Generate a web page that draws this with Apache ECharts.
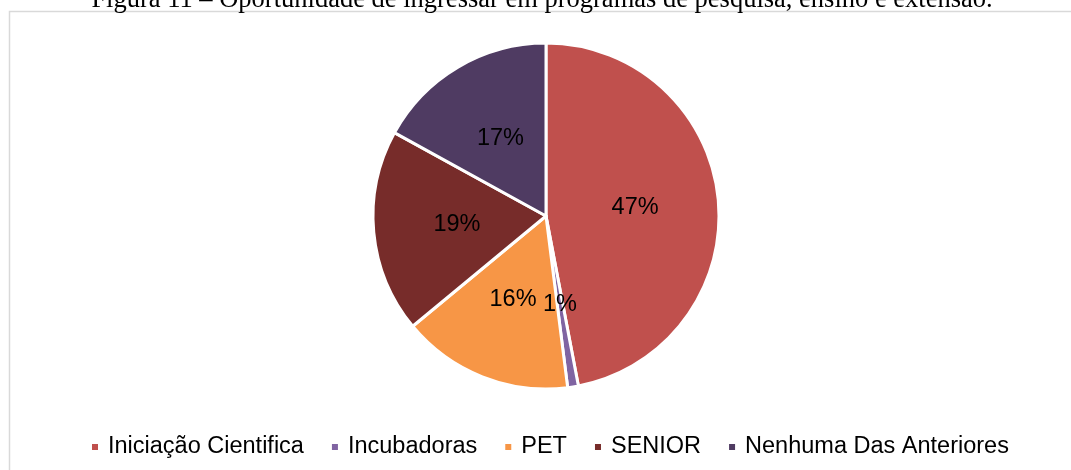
<!DOCTYPE html>
<html lang="pt">
  <head>
    <meta charset="UTF-8">
    <title>Figura 11</title>
    <style>
      html, body { margin: 0; padding: 0; background: #fff; }
      #main { width: 1071px; height: 470px; }
    </style>
  </head>
  <body>
    <div id="main"></div>
    <script src="https://cdn.jsdelivr.net/npm/echarts@6/dist/echarts.min.js"></script>
    <script>
      // dados (percentuais)
      var categorias = ['Iniciação Cientifica', 'Incubadoras', 'PET', 'SENIOR', 'Nenhuma Das Anteriores'];
      var valores = [47, 1, 16, 19, 17];
      var cores = ['#C0504D', '#8064A2', '#F79646', '#772C2A', '#4F3B62'];

      var chart = echarts.init(document.getElementById('main'));

      var dados = categorias.map(function (nome, i) {
        return { name: nome, value: valores[i] };
      });

      var option = {
        animation: false,
        color: cores,
        graphic: [
          {
            type: 'rect',
            shape: { x: 9.5, y: 11.5, width: 1200, height: 600 },
            style: { fill: 'none', stroke: '#D9D9D9', lineWidth: 1.5 },
            z: -1
          },
          {
            type: 'text',
            x: 542,
            y: -13,
            style: {
              text: 'Figura 11 – Oportunidade de ingressar em programas de pesquisa, ensino e extensão.',
              font: '26.5px "Liberation Serif", "Times New Roman", serif',
              align: 'center',
              verticalAlign: 'top',
              fill: '#000'
            }
          }
        ],
        legend: {
          left: 85,
          top: 430,
          icon: 'rect',
          itemWidth: 8,
          itemHeight: 8,
          itemGap: 26,
          textStyle: {
            fontFamily: '"Liberation Sans", Arial, sans-serif',
            fontSize: 23.5,
            color: '#000',
            padding: [0, 0, 0, 4]
          },
          data: categorias
        },
        series: [{
          type: 'pie',
          center: [546, 216],
          radius: 173,
          startAngle: 90,
          clockwise: true,
          avoidLabelOverlap: false,
          itemStyle: { borderColor: '#fff', borderWidth: 3 },
          label: {
            position: 'inside',
            formatter: '{d}%',
            fontFamily: '"Liberation Sans", Arial, sans-serif',
            fontSize: 23.5,
            color: '#000',
            padding: [4, 0, 0, 0]
          },
          labelLine: { show: false },
          emphasis: { disabled: true },
          data: dados
        }]
      };

      chart.setOption(option);
    </script>
  </body>
</html>
